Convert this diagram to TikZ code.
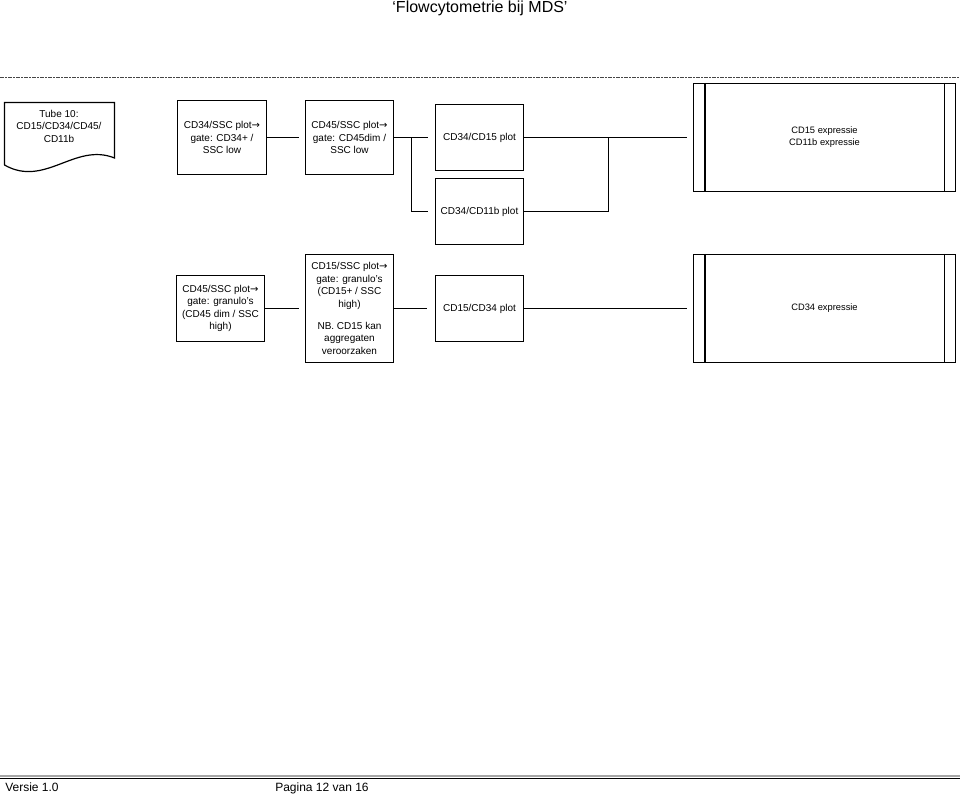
\documentclass[tikz,border=0pt]{standalone}
\usepackage{fontspec}
\setmainfont{Liberation Sans}
\newfontfamily\arrfont{DejaVu Sans}
\newcommand{\rarr}{{\arrfont →}}
\begin{document}
\begin{tikzpicture}[x=0.75pt,y=-0.75pt,
  box/.style={draw,line width=0.9pt,inner sep=0pt,align=center,font=\fontsize{7.5}{9.4}\selectfont},
  bigbox/.style={box,font=\fontsize{7}{9}\selectfont},
  conn/.style={line width=0.9pt},
  inner/.style={line width=0.9pt}]
\useasboundingbox (0,0) rectangle (960,794);
% header
\node[anchor=base,font=\fontsize{12}{14}\selectfont,inner sep=0pt] (title) at (480,12) {‘Flowcytometrie bij MDS’};
\draw[gray!55!black,line width=1.1pt,dash pattern=on 3pt off 1pt on 1pt off 1pt] (0,77.5) -- (960,77.5);
% document shape
\draw[line width=0.9pt] (4.5,165) -- (4.5,102.5) -- (114.5,102.5) -- (114.5,158) .. controls (75,142) and (45,188) .. (4.5,165);
\node[inner sep=0pt,align=center,font=\fontsize{7.5}{9.4}\selectfont] (b1) at (59,126) {Tube 10:\\CD15/CD34/CD45/\\CD11b};
% row 1
\node[box,minimum width=66.75pt,minimum height=55.5pt] (b2) at (222,137.5) {CD34/SSC plot\rarr\\gate: CD34+ /\\SSC low};
\node[box,minimum width=66pt,minimum height=55.5pt] (b3) at (349.5,137.5) {CD45/SSC plot\rarr\\gate: CD45dim /\\SSC low};
\node[box,minimum width=66pt,minimum height=49.5pt] (b4) at (479.5,137.5) {CD34/CD15 plot};
\node[box,minimum width=66pt,minimum height=49.5pt] (b5) at (479.5,211.5) {CD34/CD11b plot};
\node[bigbox,minimum width=196.5pt,minimum height=81pt] (big1) at (824.5,137.5) {CD15 expressie\\CD11b expressie};
\draw[inner] ([xshift=9pt]big1.north west) -- ([xshift=9pt]big1.south west);
\draw[inner] ([xshift=-9pt]big1.north east) -- ([xshift=-9pt]big1.south east);
\coordinate (j1) at (411.5,137.5);
\coordinate (j2) at (608.5,137.5);
\draw[conn,shorten >=4.5pt] (b2.east) -- (b3.west);
\draw[conn] (b3.east) -- (j1);
\draw[conn,shorten >=5.25pt] (j1) -- (b4.west);
\draw[conn,shorten >=5.25pt] (j1) |- (b5.west);
\draw[conn] (b4.east) -- (j2);
\draw[conn] (b5.east) -| (j2);
\draw[conn,shorten >=4.5pt] (j2) -- (big1.west);
% row 2
\node[box,minimum width=66pt,minimum height=49.5pt] (r1) at (220.5,308.5) {CD45/SSC plot\rarr\\gate: granulo's\\(CD45 dim / SSC\\high)};
\node[box,minimum width=66pt,minimum height=81pt] (r2) at (349.5,308.5) {CD15/SSC plot\rarr\\gate: granulo's\\(CD15+ / SSC\\high)\\[7pt]NB. CD15 kan\\aggregaten\\veroorzaken};
\node[box,minimum width=66pt,minimum height=49.5pt] (r3) at (479.5,308.5) {CD15/CD34 plot};
\node[bigbox,minimum width=196.5pt,minimum height=81pt] (big2) at (824.5,308.5) {CD34 expressie};
\draw[inner] ([xshift=9pt]big2.north west) -- ([xshift=9pt]big2.south west);
\draw[inner] ([xshift=-9pt]big2.north east) -- ([xshift=-9pt]big2.south east);
\draw[conn,shorten >=4.5pt] (r1.east) -- (r2.west);
\draw[conn,shorten >=6pt] (r2.east) -- (r3.west);
\draw[conn,shorten >=4.5pt] (r3.east) -- (big2.west);
% footer
\draw[gray!70,line width=1.5pt] (0,776) -- (960,776);
\draw[black,line width=0.75pt] (0,778.5) -- (960,778.5);
\node[anchor=base west,inner sep=0pt,font=\fontsize{9}{11}\selectfont] (ver) at (5,791) {Versie 1.0};
\node[anchor=base west,inner sep=0pt,font=\fontsize{9}{11}\selectfont] (pag) at (275,791) {Pagina 12 van 16};
\end{tikzpicture}
\end{document}
